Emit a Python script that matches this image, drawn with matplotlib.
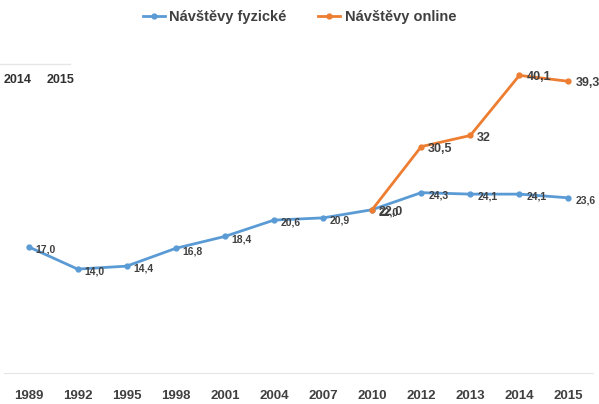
import matplotlib.pyplot as plt
from matplotlib.lines import Line2D

# data
years = ["1989", "1992", "1995", "1998", "2001", "2004", "2007", "2010",
         "2012", "2013", "2014", "2015"]
fyzicke = [17.0, 14.0, 14.4, 16.8, 18.4, 20.6, 20.9, 22.0, 24.3, 24.1, 24.1, 23.6]
online_years = ["2010", "2012", "2013", "2014", "2015"]
online = [22.0, 30.5, 32.0, 40.1, 39.3]
online_labels = ["22,0", "30,5", "32", "40,1", "39,3"]

blue = "#5B9BD5"
orange = "#ED7D31"
txt = "#404040"

plt.rcParams['font.family'] = ['Liberation Sans', 'DejaVu Sans']

fig = plt.figure(figsize=(5.99, 4.04), dpi=100)
ax = fig.add_axes([4 / 599, 1 - 373 / 404, 589 / 599, (373 - 39) / 404])

x = list(range(len(years)))
xo = [years.index(y) for y in online_years]

ax.plot(x, fyzicke, color=blue, lw=2, marker='o', ms=3.5)
ax.plot(xo, online, color=orange, lw=2, marker='o', ms=3.5)

for xi, v in zip(x, fyzicke):
    ax.annotate(f"{v:.1f}".replace('.', ','), (xi, v), xytext=(5, -2),
                textcoords='offset points', ha='left', va='center',
                fontsize=7.5, fontweight='bold', color=txt)
for xi, v, lab in zip(xo, online, online_labels):
    ax.annotate(lab, (xi, v), xytext=(5, -1.5), textcoords='offset points',
                ha='left', va='center', fontsize=9, fontweight='bold', color=txt)

ax.set_xlim(-0.5, len(years) - 0.5)
ax.set_ylim(0, 45)
ax.set_xticks(x)
ax.set_xticklabels(years, fontsize=9.5, fontweight='bold', color=txt)
ax.tick_params(axis='x', length=0, pad=12)
ax.set_yticks([])
for s in ['top', 'right', 'left']:
    ax.spines[s].set_visible(False)
ax.spines['bottom'].set_color('#E6E6E6')

# stray header text and line in the top left corner
fig.text(4 / 599, 1 - 80 / 404, "2014", fontsize=9, fontweight='bold', color='#303030', va='center')
fig.text(47 / 599, 1 - 80 / 404, "2015", fontsize=9, fontweight='bold', color='#303030', va='center')
fig.add_artist(Line2D([0, 70 / 599], [1 - 64 / 404, 1 - 64 / 404], color='#E6E6E6', lw=1))

handles = [Line2D([], [], color=blue, lw=2, marker='o', ms=3.5),
           Line2D([], [], color=orange, lw=2, marker='o', ms=3.5)]
fig.legend(handles, ["Návštěvy fyzické", "Návštěvy online"], loc='center',
           bbox_to_anchor=(0.5, 1 - 17 / 404), ncol=2, frameon=False,
           prop={'size': 10.5, 'weight': 'bold'}, labelcolor=txt,
           handlelength=1.5, handletextpad=0.3, columnspacing=2.2)

plt.savefig('out.png', dpi=100)
